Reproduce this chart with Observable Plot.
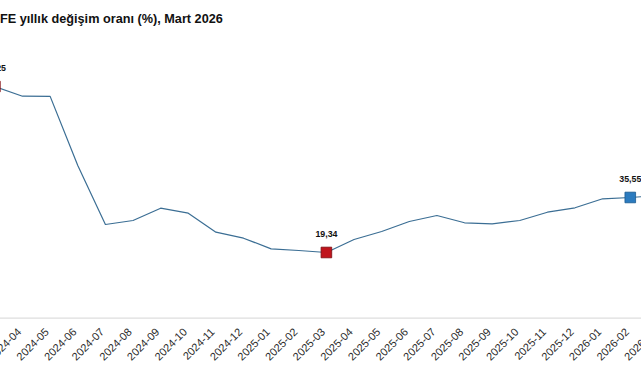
<!DOCTYPE html>
<html>
<head>
<meta charset="utf-8">
<script src="https://cdn.jsdelivr.net/npm/d3@7"></script>
<script src="https://cdn.jsdelivr.net/npm/@observablehq/plot@0.6"></script>
<style>
  html, body { margin: 0; padding: 0; background: #fff; overflow: hidden; }
  #wrap { position: relative; width: 641px; height: 380px; }
  #title { position: absolute; left: 0; top: 12px; font-family: "Liberation Sans", Arial, sans-serif; font-weight: bold; font-size: 12.7px; color: #111; z-index: 2; white-space: nowrap; }
</style>
</head>
<body>
<div id="wrap">
  <div id="title">FE yıllık değişim oranı (%), Mart 2026</div>
  <div id="chart"></div>
</div>
<script>
const months = ["2024-03","2024-04","2024-05","2024-06","2024-07","2024-08","2024-09","2024-10","2024-11","2024-12",
  "2025-01","2025-02","2025-03","2025-04","2025-05","2025-06","2025-07","2025-08","2025-09","2025-10","2025-11","2025-12",
  "2026-01","2026-02","2026-03"];
const values = [68.25, 65.40, 65.35, 44.97, 27.59, 28.77, 32.39, 30.92, 25.32, 23.55,
  20.42, 19.92, 19.34, 23.17, 25.52, 28.47, 30.24, 28.09, 27.79, 28.77, 31.21, 32.51,
  35.16, 35.55, 36.10];
const highlightMonths = ["2024-03", "2025-03", "2026-02"];
const highlightColors = ["#c0141c", "#c0141c", "#2b7bbf"];
const highlightStrokes = ["#7a0c10", "#7a0c10", "#1a5a90"];
const highlightLabels = ["68,25", "19,34", "35,55"];

const data = months.map((m, i) => ({month: m, value: values[i]}));
const hl = highlightMonths.map((m, i) => ({
  month: m, value: values[months.indexOf(m)], fill: highlightColors[i], stroke: highlightStrokes[i], label: highlightLabels[i]
}));

const chart = Plot.plot({
  width: 641,
  height: 380,
  marginLeft: 0,
  marginRight: 0,
  marginTop: 0,
  marginBottom: 62.4,
  style: {background: "transparent"},
  x: {type: "point", domain: months, range: [-5.6, 657.4], padding: 0, round: false},
  y: {domain: [0, 80], range: [317.6, 317.6 - 80 * 3.393], axis: null},
  marks: [
    Plot.ruleY([0], {stroke: "#d6d6d6", strokeWidth: 1}),
    Plot.axisX({tickRotate: -45, tickSize: 0, tickPadding: 12, dx: -3, fontSize: 11, fill: "#2a2a2a",
      fontFamily: "Liberation Sans, Arial, sans-serif", label: null}),
    Plot.line(data, {x: "month", y: "value", stroke: "#3b6e94", strokeWidth: 1.2}),
    Plot.dot(hl, {x: "month", y: "value", symbol: "square", r: 6, fill: "fill", stroke: "stroke", strokeWidth: 0.8}),
    Plot.text(hl, {x: "month", y: "value", text: "label", dy: -18, fontSize: 8.8, fontWeight: "bold",
      fill: "#111", fontFamily: "Liberation Sans, Arial, sans-serif"})
  ]
});
document.getElementById("chart").appendChild(chart);
</script>
</body>
</html>
